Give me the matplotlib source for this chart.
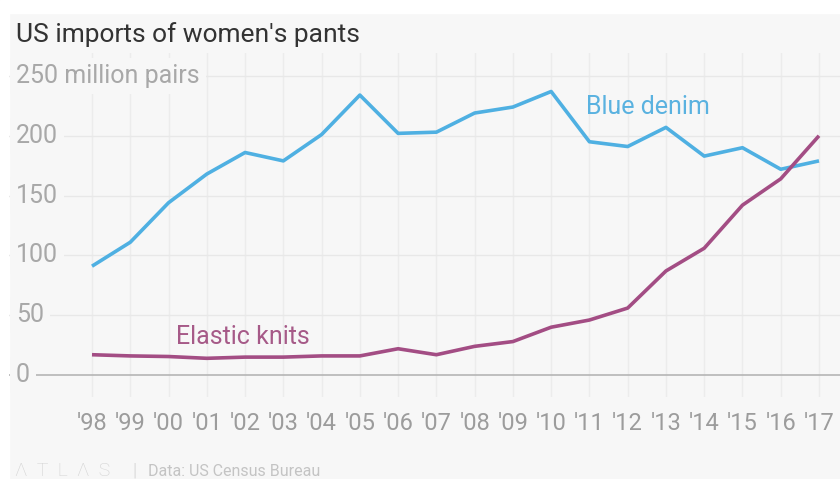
import matplotlib.pyplot as plt
import matplotlib.patches as mpatches

years = ["'98", "'99", "'00", "'01", "'02", "'03", "'04", "'05", "'06", "'07",
         "'08", "'09", "'10", "'11", "'12", "'13", "'14", "'15", "'16", "'17"]
blue_denim = [91, 111, 144, 168, 186, 179, 201, 234, 202, 203,
              219, 224, 237, 195, 191, 207, 183, 190, 172, 179]
elastic_knits = [17, 16, 15.5, 14, 15, 15, 16, 16, 22, 17,
                 24, 28, 40, 46, 56, 87, 106, 142, 164, 200]
y_ticks = [0, 50, 100, 150, 200, 250]

W, H = 840, 479
BG = "#f7f7f7"
BLUE = "#4fb0e2"
PLUM = "#a34d84"

plt.rcParams["font.family"] = ["Roboto", "DejaVu Sans"]

fig = plt.figure(figsize=(W / 100, H / 100), dpi=100, facecolor=BG)
# white margin strips along the top and left edge
fig.patches.append(mpatches.Rectangle((0, (H - 13) / H), 1, 13 / H,
                                      transform=fig.transFigure, color="white", zorder=-10))
fig.patches.append(mpatches.Rectangle((0, 0), 9 / W, 1,
                                      transform=fig.transFigure, color="white", zorder=-10))

# axes spans pixel x 9..840, y 53..397
ax = fig.add_axes([9 / W, (H - 397) / H, (W - 9) / W, 344 / H])
ax.set_facecolor("none")
x = list(range(len(years)))
px = 727 / 19
x0 = -(92 - 9) / px
ax.set_xlim(x0, 19 + (840 - 819) / px)
ax.set_ylim(-22 / 1.2, 250 + 23 / 1.2)

for xi in x:
    ax.axvline(xi, color="#ececec", lw=1, zorder=1)
for yv in y_ticks:
    if yv == 0:
        ax.axhline(yv, color="#b5b5b5", lw=1.2, zorder=2)
    else:
        ax.axhline(yv, color="#e8e8e8", lw=1, zorder=1)
    label = "250 million pairs" if yv == 250 else str(yv)
    ax.text(x0 + (16 - 9) / px, yv, label, fontsize=18, color="#a8a8a8",
            ha="left", va="center", zorder=3,
            bbox=dict(boxstyle="square,pad=0.25", fc=BG, ec="none"))

ax.plot(x, blue_denim, color=BLUE, lw=2.6, zorder=4, solid_capstyle="butt")
ax.plot(x, elastic_knits, color=PLUM, lw=2.6, zorder=4, solid_capstyle="butt")

ax.text(12.9, 224, "Blue denim", color="#5ab2e0", fontsize=18, ha="left", va="center")
ax.text(2.2, 32, "Elastic knits", color="#a65a88", fontsize=18, ha="left", va="center")

ax.set_xticks(x)
ax.set_xticklabels(years)
ax.tick_params(axis="x", length=0, pad=11, labelsize=17, labelcolor="#9c9c9c")
ax.set_yticks([])
for s in ax.spines.values():
    s.set_visible(False)

fig.text(16 / W, 1 - 35 / H, "US imports of women's pants", fontsize=19,
         color="#333333", ha="left", va="center")
fig.text(15 / W, 1 - 471 / H, "Λ  T  L  Λ  S", fontsize=14, color="#d2d2d2",
         fontweight="light", ha="left", va="center")
fig.text(133 / W, 1 - 471 / H, "|", fontsize=13, color="#dddddd", ha="left", va="center")
fig.text(148 / W, 1 - 471 / H, "Data: US Census Bureau", fontsize=11.5, color="#c4c4c4",
         ha="left", va="center")

fig.savefig("out.png", dpi=100, facecolor=BG)
